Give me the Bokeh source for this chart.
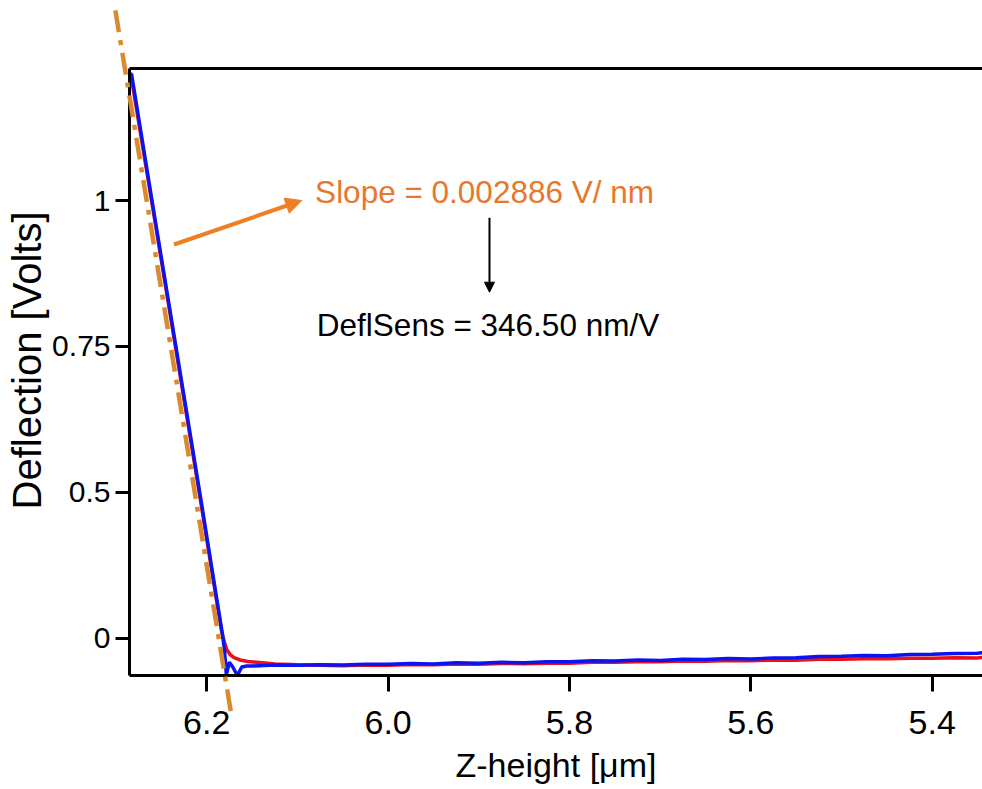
import math
from bokeh.plotting import figure
from bokeh.models import Range1d, LinearAxis, FixedTicker, Arrow, NormalHead, Label
from bokeh.core.properties import value
from bokeh.embed import file_html
from bokeh.resources import INLINE

# ---------------- data ----------------
x_ticks = [6.2, 6.0, 5.8, 5.6, 5.4]
x_tick_labels = ["6.2", "6.0", "5.8", "5.6", "5.4"]
y_ticks = [0.25, 0.5, 0.75, 1.0]
y_tick_labels = ["0", "0.5", "0.75", "1"]

red_x = [6.2841, 6.2609, 6.2339, 6.2069, 6.1892, 6.1834, 6.1804, 6.1780, 6.1743,
         6.1699, 6.1633, 6.1545, 6.1357, 6.125, 6.100, 6.075, 6.050, 6.025, 6.000,
         5.975, 5.950, 5.925, 5.900, 5.875, 5.850, 5.825, 5.800, 5.775, 5.750,
         5.725, 5.700, 5.675, 5.650, 5.625, 5.600, 5.575, 5.550, 5.525, 5.500,
         5.475, 5.450, 5.425, 5.400, 5.375, 5.350, 5.3445]
red_y = [1.2193, 1.0000, 0.7430, 0.4860, 0.3146, 0.2598, 0.2427, 0.2307, 0.2221,
         0.2169, 0.2127, 0.2101, 0.2075, 0.2060, 0.2045, 0.2038, 0.2030, 0.2042, 0.2036,
         0.2050, 0.2045, 0.2058, 0.2052, 0.2066, 0.2062, 0.2073, 0.2070, 0.2088, 0.2086,
         0.2098, 0.2095, 0.2108, 0.2104, 0.2118, 0.2112, 0.2127, 0.2123, 0.2140, 0.2138,
         0.2150, 0.2148, 0.2158, 0.2155, 0.2166, 0.2163, 0.2168]

blue_x = [6.2830, 6.2604, 6.2333, 6.2063, 6.1887, 6.1828, 6.1804, 6.1784, 6.1751,
          6.1710, 6.1663, 6.1614, 6.1559, 6.150, 6.125, 6.100, 6.075, 6.050, 6.025,
          6.000, 5.975, 5.950, 5.925, 5.900, 5.875, 5.850, 5.825, 5.800, 5.775,
          5.750, 5.725, 5.700, 5.675, 5.650, 5.625, 5.600, 5.575, 5.550, 5.525,
          5.500, 5.475, 5.450, 5.425, 5.400, 5.375, 5.350, 5.3445]
blue_y = [1.2176, 1.0000, 0.7430, 0.4860, 0.3146, 0.2581, 0.2289, 0.1878, 0.2089,
          0.1998, 0.1861, 0.2007, 0.2024, 0.2024, 0.2040, 0.2036, 0.2047, 0.2039, 0.2055,
          0.2052, 0.2066, 0.2060, 0.2078, 0.2071, 0.2086, 0.2080, 0.2097, 0.2095, 0.2112,
          0.2110, 0.2127, 0.2120, 0.2138, 0.2136, 0.2152, 0.2142, 0.2163, 0.2165, 0.2188,
          0.2190, 0.2205, 0.2198, 0.2222, 0.2225, 0.2238, 0.2243, 0.2252]

fit_x = [6.3008, 6.1722]
fit_y = [1.3256, 0.1124]

slope_arrow_x = [6.2361, 6.0952]
slope_arrow_y = [0.9246, 1.0000]
sens_arrow_x = [5.8882, 5.8882]
sens_arrow_y = [0.9704, 0.8429]

slope_text = "Slope = 0.002886 V/ nm"
slope_text_pos = (6.0805, 1.0150)
sens_text = "DeflSens = 346.50 nm/V"
sens_text_pos = (6.0786, 0.7864)

y_label_text = "Deflection [Volts]"
y_label_pos = (6.3983, 0.7259)
x_label_text = "Z-height [μm]"

x_range = (6.2852, 5.3445)
y_range = (0.1861, 1.2262)

FONT = "Liberation Sans"
ORANGE_FIT = "#DA8A2E"
ORANGE_ARROW = "#EE7F22"
ORANGE_TEXT = "#E8772C"

p = figure(width=982, height=789, output_backend="svg", toolbar_location=None,
           x_range=Range1d(*x_range), y_range=Range1d(*y_range),
           min_border_left=129, min_border_right=0, min_border_top=68,
           min_border_bottom=114)
p.outline_line_color = None
p.grid.visible = False
p.background_fill_color = "white"
p.border_fill_color = "white"

# axes styling
for ax in (p.xaxis[0], p.yaxis[0]):
    ax.axis_line_width = 3
    ax.axis_line_color = "black"
    ax.major_tick_line_width = 3
    ax.major_tick_line_color = "black"
    ax.major_tick_in = 0
    ax.minor_tick_line_color = None
    ax.major_label_text_font = FONT
    ax.major_label_text_color = "black"
    ax.axis_label_text_font = FONT
    ax.axis_label_text_font_style = "normal"
    ax.axis_label_text_color = "black"

xa = p.xaxis[0]
xa.ticker = FixedTicker(ticks=x_ticks)
xa.major_label_overrides = {v: s for v, s in zip(x_ticks, x_tick_labels)}
xa.major_tick_out = 16
xa.major_label_text_font_size = "34px"
xa.major_label_standoff = 19
xa.axis_label = x_label_text
xa.axis_label_text_font_size = "34px"
xa.axis_label_standoff = 9

ya = p.yaxis[0]
ya.ticker = FixedTicker(ticks=y_ticks)
ya.major_label_overrides = {v: s for v, s in zip(y_ticks, y_tick_labels)}
ya.major_tick_out = 14
ya.major_label_text_font_size = "30px"
ya.major_label_standoff = 5

top_axis = LinearAxis(ticker=FixedTicker(ticks=[]), axis_line_width=3,
                      axis_line_color="black", major_tick_line_color=None,
                      minor_tick_line_color=None)
p.add_layout(top_axis, "above")

# data
p.line(red_x, red_y, line_color="#E8101A", line_width=3.5)
p.line(blue_x, blue_y, line_color="#0A14F0", line_width=3.5)
p.line(fit_x, fit_y, line_color=ORANGE_FIT, line_width=4.5, line_dash="22 8 5 8",
       level="overlay")

p.add_layout(Arrow(x_start=slope_arrow_x[0], y_start=slope_arrow_y[0],
                   x_end=slope_arrow_x[1], y_end=slope_arrow_y[1],
                   line_color=ORANGE_ARROW, line_width=4,
                   end=NormalHead(size=16, fill_color=ORANGE_ARROW,
                                  line_color=ORANGE_ARROW, line_width=1)))
p.add_layout(Arrow(x_start=sens_arrow_x[0], y_start=sens_arrow_y[0],
                   x_end=sens_arrow_x[1], y_end=sens_arrow_y[1],
                   line_color="black", line_width=2,
                   end=NormalHead(size=10, fill_color="black",
                                  line_color="black", line_width=1)))

p.add_layout(Label(x=slope_text_pos[0], y=slope_text_pos[1], text=slope_text,
                   text_font=FONT, text_font_size="31.5px", text_color=ORANGE_TEXT,
                   text_baseline="alphabetic", text_align="left"))
p.add_layout(Label(x=sens_text_pos[0], y=sens_text_pos[1], text=sens_text,
                   text_font=FONT, text_font_size="31.5px", text_color="black",
                   text_baseline="alphabetic", text_align="left"))

# y axis title (placed as text so it can sit slightly above centre, as in the original)
p.text(x=[y_label_pos[0]], y=[y_label_pos[1]], text=[y_label_text],
       angle=math.pi / 2, text_font=value(FONT), text_font_size=value("40px"),
       text_color="black", text_baseline="middle", text_align="center",
       level="overlay")

open("out.html", "w").write(file_html(p, INLINE))
